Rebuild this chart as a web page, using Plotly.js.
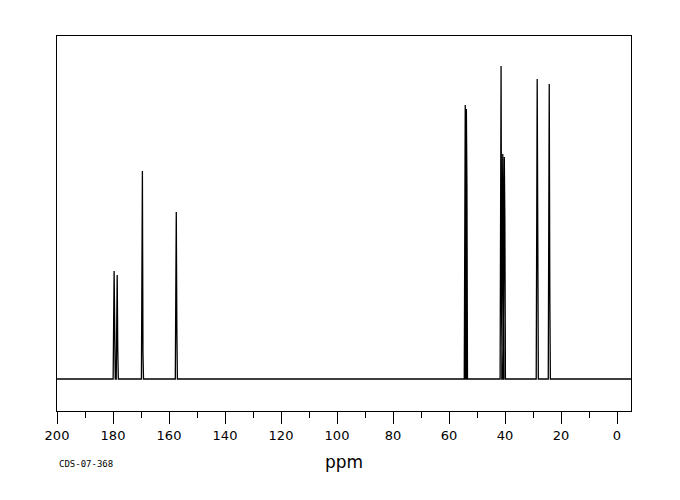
<!DOCTYPE html>
<html>
<head>
<meta charset="utf-8">
<script src="https://cdn.plot.ly/plotly-3.0.1.min.js"></script>
<style>html,body{margin:0;padding:0;background:#fff;}#chart{width:680px;height:500px;}</style>
</head>
<body>
<div id="chart"></div>
<script>
// Peak positions (ppm), peak heights and shoulder heights (arbitrary intensity units)
const peakPpm      = [179.6, 178.5, 169.5, 157.4, 54.2, 53.8, 41.4, 40.8, 40.25, 28.5, 24.2];
const peakHeight   = [108,   104,   208,   167,   274,  270,  313,  225,  222,   300,  295];
const shoulderHeight = [33,  30,    26,    51,    198,  195,  60,   60,   160,   37,   90];
const tickVals = [200, 180, 160, 140, 120, 100, 80, 60, 40, 20, 0];
const tickText = ["200","180","160","140","120","100","80","60","40","20","0"];
const xLabel = "ppm";
const sampleId = "CDS-07-368";

// Build spectrum trace from peak list
const xs = [200], ys = [0];
const order = peakPpm.map((p, i) => i).sort((a, b) => peakPpm[b] - peakPpm[a]);
order.forEach(i => {
  const p = peakPpm[i];
  xs.push(p + 0.35, p, p - 0.2, p - 0.4);
  ys.push(0, peakHeight[i], shoulderHeight[i], 0);
});
xs.push(-5); ys.push(0);

const trace = {
  x: xs, y: ys, type: 'scatter', mode: 'lines',
  line: {color: '#000', width: 1.3, shape: 'linear'},
  hoverinfo: 'skip'
};

const layout = {
  width: 680, height: 500,
  margin: {l: 57, r: 49, t: 36, b: 89},
  paper_bgcolor: '#fff', plot_bgcolor: '#fff',
  showlegend: false,
  font: {family: 'DejaVu Sans, sans-serif', color: '#000'},
  xaxis: {
    range: [200, -5], autorange: false,
    showline: true, mirror: true, linecolor: '#000', linewidth: 1,
    showgrid: false, zeroline: false,
    tickmode: 'array', tickvals: tickVals, ticktext: tickText,
    ticks: 'outside', ticklen: 12, tickwidth: 1, tickcolor: '#000',
    minor: {dtick: 10, tick0: 0, ticks: 'outside', ticklen: 6, tickwidth: 1, tickcolor: '#000', showgrid: false},
    tickfont: {size: 13, color: '#000', family: 'DejaVu Sans, sans-serif'},
    title: {text: xLabel, font: {size: 17, color: '#000', family: 'DejaVu Sans, sans-serif'}, standoff: 14}
  },
  yaxis: {
    range: [-32, 343], autorange: false,
    showline: true, mirror: true, linecolor: '#000', linewidth: 1,
    showgrid: false, zeroline: false, showticklabels: false, ticks: ''
  },
  annotations: [{
    text: sampleId, xref: 'paper', yref: 'paper', x: 0, y: -0.14,
    xanchor: 'left', yanchor: 'middle', showarrow: false,
    font: {size: 9, color: '#000', family: 'DejaVu Sans Mono, monospace'}
  }]
};

Plotly.newPlot('chart', [trace], layout, {displayModeBar: false, staticPlot: true});
</script>
</body>
</html>
